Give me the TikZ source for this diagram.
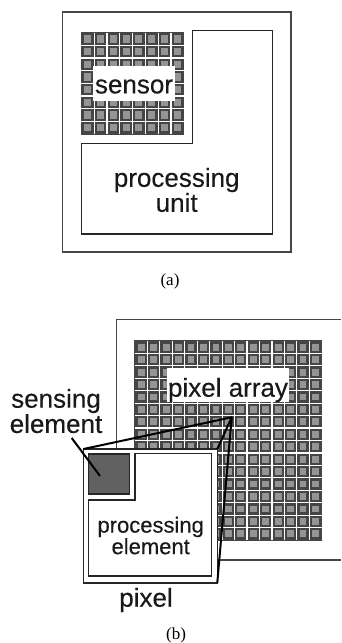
\documentclass[tikz,border=0pt]{standalone}
\usepackage{fontspec}
\setmainfont{Liberation Sans}
\newfontfamily\capfont{Liberation Serif}
\newfontfamily\heavyfont[FakeBold=0.25]{Liberation Sans}
\definecolor{inkdark}{gray}{0.27}
\definecolor{cellgray}{gray}{0.58}
\tikzset{x=1pt, y=-1pt,
	every node/.style={inner sep=0pt, outer sep=0pt},
	frame/.style={draw=inkdark, line width=1.5pt, fill=white},
	block/.style={draw=black!85, line width=1.5pt, fill=white},
	bigtext/.style={font=\heavyfont\fontsize{26}{25}\selectfont, align=center, text=black!90},
	tighttext/.style={font=\heavyfont\fontsize{26}{23}\selectfont, align=center, text=black!90},
	smalltext/.style={font=\heavyfont\fontsize{22}{20}\selectfont, align=center, text=black!90},
	captext/.style={font=\capfont\fontsize{17}{17}\selectfont},
	cell/.style={draw=inkdark, fill=cellgray, line width=1.7pt, minimum size=8.8pt},
	gridline/.style={white, line width=1.2pt},
	arrayback/.style={draw=inkdark, line width=1.5pt, fill=inkdark},
	beam/.style={black, line width=2pt, line join=round}}

\begin{document}
\begin{tikzpicture}
	\useasboundingbox[fill=white] (0,0) rectangle (341,643);

	% (a)
	\draw[frame] (62.7,12) rectangle (291,252);
	\draw[block] (192.3,30.7) -- (272.7,30.7) -- (272.7,234) -- (81.3,234) -- (81.3,143.3) -- (192.3,143.3) -- cycle;
	\draw[arrayback] (81.3,32.7) rectangle (183.7,134);
	\foreach \k in {1,...,7} {
		\draw[gridline] ({81.3+12.8*\k},32.7) -- ({81.3+12.8*\k},134);
		\draw[gridline] (81.3,{32.7+12.66*\k}) -- (183.7,{32.7+12.66*\k});
	}
	\foreach \i in {0,...,7}
		\foreach \j in {0,...,7}
			\node[cell] (SensorCell-\i-\j) at ({81.3+12.8*(\i+.5)},{32.7+12.66*(\j+.5)}) {};
	\node[fill=white, minimum width=82pt, minimum height=35pt] (SensorBox) at (134,83.5) {};
	\node[bigtext] (Sensor) at (134,86.5) {sensor};
	\node[bigtext] (Unit) at (176.7,190) {processing\\unit};
	\node[captext] (CapA) at (170,281) {(a)};

	% (b)
	\draw[frame] (341,319.3) -- (116.3,319.3) -- (116.3,560) -- (341,560);
	\draw[arrayback] (135,341) rectangle (321.7,540);
	\foreach \k in {1,...,14}
		\draw[gridline] ({135+12.447*\k},341) -- ({135+12.447*\k},540);
	\foreach \k in {1,...,15}
		\draw[gridline] (135,{341+12.44*\k}) -- (321.7,{341+12.44*\k});
	\foreach \i in {0,...,14}
		\foreach \j in {0,...,15}
			\node[cell, minimum size=8.5pt] (ArrayCell-\i-\j) at ({135+12.447*(\i+.5)},{341+12.44*(\j+.5)}) {};
	\node[fill=white, minimum width=122pt, minimum height=34pt] (ArrayBox) at (228,385) {};
	\node[bigtext] (ArrayText) at (228,390) {pixel array};

	\coordinate (Source) at (231.7,417.3);
	\node[frame, draw=black!85, minimum width=134pt, minimum height=133.7pt] (Pixel) at (150.3,515.9) {};
	\draw[beam] (Pixel.north west) -- (Source) -- (Pixel.north east);
	\draw[beam] (Source) -- (Pixel.south east);
	\draw[block] (135,453.7) -- (211.7,453.7) -- (211.7,576) -- (88.7,576) -- (88.7,500) -- (135,500) -- cycle;
	\node[draw=black!85, fill=black!62, line width=1.5pt, minimum width=40.6pt, minimum height=39.7pt] (Sensing) at (109,473.9) {};
	\node[smalltext] (Processing) at (150.7,535.5) {processing\\element};
	\node[tighttext] (SensingText) at (56,411) {sensing\\element};
	\coordinate (LeadTop) at (71.7,438);
	\coordinate (LeadEnd) at (100,476);
	\draw[beam] (LeadTop) -- (LeadEnd);
	\node[bigtext] (PixelText) at (146,600) {pixel};
	\node[captext] (CapB) at (176,635) {(b)};
\end{tikzpicture}
\end{document}
